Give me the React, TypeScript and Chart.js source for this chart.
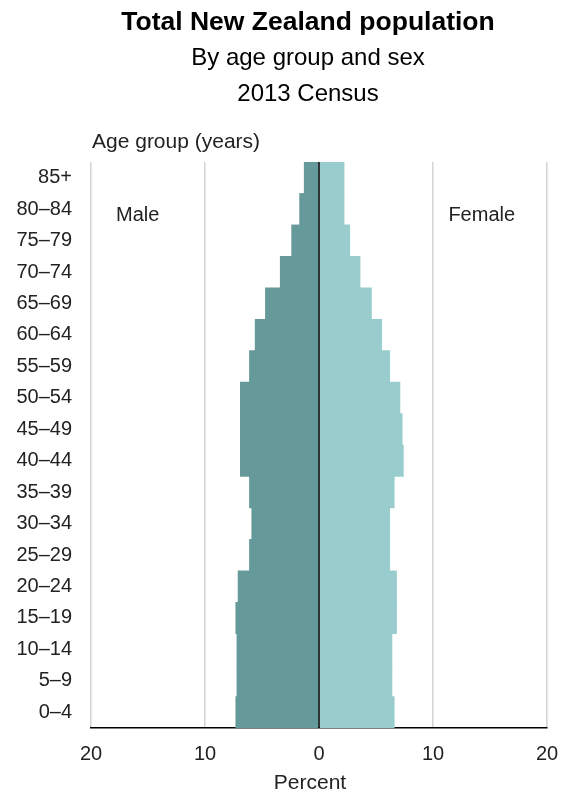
import React, { useEffect, useRef } from 'react';
import { Chart, registerables } from 'chart.js';

Chart.register(...registerables);

const FONT = '"Liberation Sans", Arial, Helvetica, sans-serif';

const ageGroups = ['0–4', '5–9', '10–14', '15–19', '20–24', '25–29', '30–34', '35–39', '40–44', '45–49', '50–54', '55–59', '60–64', '65–69', '70–74', '75–79', '80–84', '85+'];
const malePercent = [7.3, 7.2, 7.2, 7.3, 7.1, 6.1, 5.9, 6.1, 6.9, 6.9, 6.9, 6.1, 5.6, 4.7, 3.4, 2.4, 1.7, 1.3];
const femalePercent = [6.6, 6.4, 6.4, 6.8, 6.8, 6.2, 6.2, 6.6, 7.4, 7.3, 7.1, 6.2, 5.5, 4.6, 3.6, 2.7, 2.2, 2.2];
const xTickValues = [-20, -10, 0, 10, 20];

const titleText = 'Total New Zealand population';
const subtitleLines = ['By age group and sex', '2013 Census'];
const yAxisTitle = 'Age group (years)';
const xAxisTitle = 'Percent';
const maleLabel = 'Male';
const femaleLabel = 'Female';

const textPlugin = {
  id: 'textPlugin',
  afterDatasetsDraw(chart: any) {
    const { ctx, chartArea, scales } = chart;
    const xs = scales.x;
    const ys = scales.y;
    ctx.save();
    const x0 = xs.getPixelForValue(0);
    ctx.strokeStyle = '#000';
    ctx.lineWidth = 1.5;
    ctx.beginPath();
    ctx.moveTo(x0, chartArea.top);
    ctx.lineTo(x0, chartArea.bottom);
    ctx.stroke();

    const cx = x0 - 11;
    ctx.textAlign = 'center';
    ctx.textBaseline = 'middle';
    ctx.fillStyle = '#000';
    ctx.font = `bold 26.5px ${FONT}`;
    ctx.fillText(titleText, cx, 23);
    ctx.font = `24px ${FONT}`;
    subtitleLines.forEach((t, i) => ctx.fillText(t, cx, 58.5 + i * 36));

    ctx.fillStyle = '#222';
    ctx.font = `21px ${FONT}`;
    ctx.textAlign = 'left';
    ctx.fillText(yAxisTitle, chartArea.left + 1, chartArea.top - 20);
    ctx.textAlign = 'center';
    ctx.fillText(xAxisTitle, cx + 2, chartArea.bottom + 55);

    ctx.font = `20px ${FONT}`;
    const ly = ys.getPixelForValue(ageGroups.length - 2) + 6;
    ctx.textAlign = 'left';
    ctx.fillText(maleLabel, xs.getPixelForValue(-17.8), ly);
    ctx.textAlign = 'right';
    ctx.fillText(femaleLabel, xs.getPixelForValue(17.2), ly);
    ctx.restore();
  },
};

export default function App() {
  const canvasRef = useRef<HTMLCanvasElement | null>(null);

  useEffect(() => {
    if (!canvasRef.current) return;
    Chart.defaults.font.family = FONT;
    const chart = new Chart(canvasRef.current, {
      type: 'bar',
      data: {
        labels: ageGroups,
        datasets: [
          {
            label: maleLabel,
            data: malePercent.map((v) => -v),
            backgroundColor: '#669999',
            borderWidth: 0,
            barPercentage: 1,
            categoryPercentage: 1,
          },
          {
            label: femaleLabel,
            data: femalePercent,
            backgroundColor: '#99CCCC',
            borderWidth: 0,
            barPercentage: 1,
            categoryPercentage: 1,
          },
        ],
      },
      options: {
        indexAxis: 'y',
        responsive: false,
        animation: false,
        layout: { padding: { top: 162, right: 16, left: 0, bottom: 0 } },
        plugins: {
          legend: { display: false },
          tooltip: { enabled: false },
          title: { display: false },
        },
        scales: {
          x: {
            type: 'linear',
            min: -20,
            max: 20,
            stacked: true,
            afterBuildTicks: (s: any) => {
              s.ticks = xTickValues.map((v) => ({ value: v }));
            },
            afterFit: (s: any) => {
              s.height = 68;
              s.paddingLeft = 0;
              s.paddingRight = 0;
            },
            ticks: {
              callback: (v: any) => String(Math.abs(Number(v))),
              font: { size: 20 },
              color: '#222',
              padding: 14,
              maxRotation: 0,
            },
            grid: {
              color: (c: any) => (c.tick && c.tick.value === 0 ? 'rgba(0,0,0,0)' : '#d3d3d3'),
              lineWidth: 1.5,
              drawTicks: false,
            },
            border: { display: true, color: '#000', width: 1.5 },
          },
          y: {
            type: 'category',
            reverse: true,
            stacked: true,
            afterFit: (s: any) => {
              s.width = 91;
              s.paddingTop = 0;
              s.paddingBottom = 0;
            },
            grid: { display: false, drawTicks: false },
            border: { display: false },
            ticks: { font: { size: 20 }, color: '#222', padding: 19, autoSkip: false },
          },
        },
      } as any,
      plugins: [textPlugin],
    });
    return () => chart.destroy();
  }, []);

  return (
    <div style={{ position: 'absolute', left: 0, top: 0, width: 563, height: 796, background: '#fff' }}>
      <canvas ref={canvasRef} width={563} height={796} style={{ display: 'block', width: 563, height: 796 }} />
    </div>
  );
}
